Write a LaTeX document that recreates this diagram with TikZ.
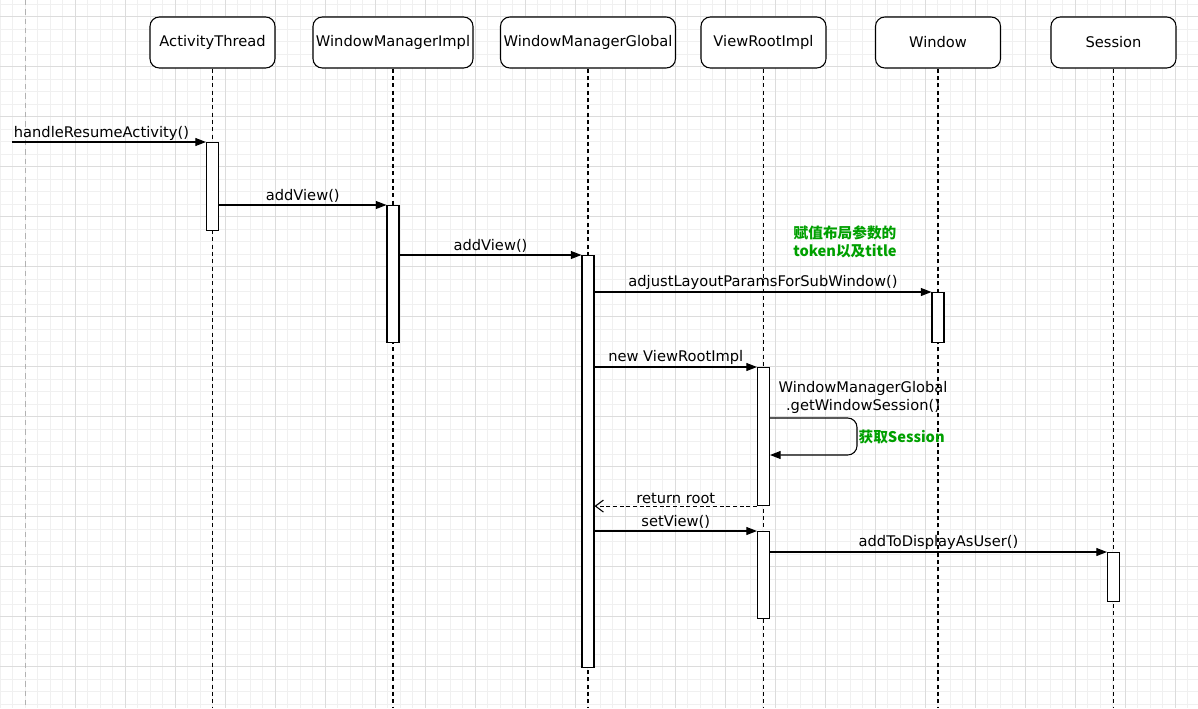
\documentclass[tikz,border=0pt]{standalone}
\usepackage{fontspec}
\setmainfont{DejaVu Sans}
\newfontfamily\cjk{Noto Sans CJK SC}
\usetikzlibrary{arrows.meta}
\definecolor{notegreen}{RGB}{0,160,0}
\definecolor{gridminor}{RGB}{240,240,240}
\definecolor{gridmajor}{RGB}{220,220,220}

\begin{document}
\begin{tikzpicture}[x=0.75pt,y=-0.75pt,
    font=\fontsize{11}{13.5}\selectfont,
    head/.style={draw,fill=white,rounded corners=7pt,line width=0.8pt,minimum height=38.25pt,minimum width=93.75pt,inner sep=0pt},
    bar/.style={draw,fill=white,line width=0.8pt,minimum width=9pt,inner sep=0pt,anchor=north},
    life/.style={line width=0.8pt,dash pattern=on 3pt off 2.5pt},
    msg/.style={line width=0.8pt,-{Triangle[length=8pt,width=6pt]}},
    ret/.style={line width=0.8pt,dash pattern=on 3pt off 2pt,-{Straight Barb[length=6pt,width=9pt]}},
    lbl/.style={above,inner sep=1.5pt},
    note/.style={text=notegreen,font=\cjk\bfseries\fontsize{11}{13.5}\selectfont,align=center,inner sep=1pt}]

    % background and grid
    \useasboundingbox (0,0) rectangle (1198,708);
    \fill[white] (0,0) rectangle (1198,708);
    \foreach \gx in {0,12.5,...,1198} \draw[gridminor,line width=0.6pt] (\gx,0) -- (\gx,708);
    \foreach \gy in {4.17,16.67,...,708} \draw[gridminor,line width=0.6pt] (0,\gy) -- (1198,\gy);
    \foreach \gx in {75,125,...,1198} \draw[gridmajor,line width=0.6pt] (\gx,0) -- (\gx,708);
    \foreach \gy in {16.67,66.67,...,708} \draw[gridmajor,line width=0.6pt] (0,\gy) -- (1198,\gy);
    \draw[gray!60,line width=0.6pt,dash pattern=on 4pt off 3pt] (25,0) -- (25,708);

    % participants
    \node[head] (ath) at (212.5,42.5) {ActivityThread};
    \node[head,minimum width=120pt] (wmi) at (393,42.5) {WindowManagerImpl};
    \node[head,minimum width=131.25pt] (wmg) at (588,42.5) {WindowManagerGlobal};
    \node[head] (vri) at (763.5,42.5) {ViewRootImpl};
    \node[head] (win) at (938,42.5) {Window};
    \node[head] (ses) at (1113.5,42.5) {Session};

    % lifelines
    \coordinate (bottom) at (0,708);
    \foreach \h in {ath,wmi,wmg,vri,win,ses}
        \draw[life] (\h.south) -- (\h.south |- bottom);

    % activations
    \node[bar,minimum height=66pt] (ath-a) at (ath.south |- 0,142) {};
    \node[bar,minimum height=102.75pt] (wmi-a) at (wmi.south |- 0,205) {};
    \node[bar,minimum height=309pt] (wmg-a) at (wmg.south |- 0,255) {};
    \node[bar,minimum height=37.5pt] (win-a) at (win.south |- 0,292) {};
    \node[bar,minimum height=103.5pt] (vri-a1) at (vri.south |- 0,367) {};
    \node[bar,minimum height=65.25pt] (vri-a2) at (vri.south |- 0,531) {};
    \node[bar,minimum height=36.75pt] (ses-a) at (ses.south |- 0,552) {};

    % messages
    \coordinate (src) at (12,142);
    \draw[msg] (src) -- node[lbl,pos=0,anchor=south west,inner sep=1pt] {handleResumeActivity()} (ath-a.north west);
    \draw[msg] (ath-a.east |- wmi-a.north) -- node[lbl] {addView()} (wmi-a.north west);
    \draw[msg] (wmi-a.east |- wmg-a.north) -- node[lbl] {addView()} (wmg-a.north west);
    \draw[msg] (wmg-a.east |- win-a.north) -- node[lbl] {adjustLayoutParamsForSubWindow()} (win-a.north west);
    \node[note] (tok-note) at (845,242) {赋值布局参数的\\token以及title};
    \draw[msg] (wmg-a.east |- vri-a1.north) -- node[lbl] {new ViewRootImpl} (vri-a1.north west);

    % self call
    \coordinate (loop) at (857,437);
    \draw[msg,rounded corners=7pt] (vri-a1.east |- 0,418) -| (loop) |- (vri-a1.east |- 0,455);
    \node[align=center] (gws) at (863,397) {WindowManagerGlobal\\.getWindowSession()};
    \node[note,anchor=west] (ses-note) at (loop) {获取Session};

    \draw[ret] (vri-a1.south west) -- node[lbl] {return root} (wmg-a.east |- vri-a1.south);
    \draw[msg] (wmg-a.east |- vri-a2.north) -- node[lbl] {setView()} (vri-a2.north west);
    \draw[msg] (vri-a2.east |- ses-a.north) -- node[lbl] {addToDisplayAsUser()} (ses-a.north west);

\end{tikzpicture}
\end{document}
